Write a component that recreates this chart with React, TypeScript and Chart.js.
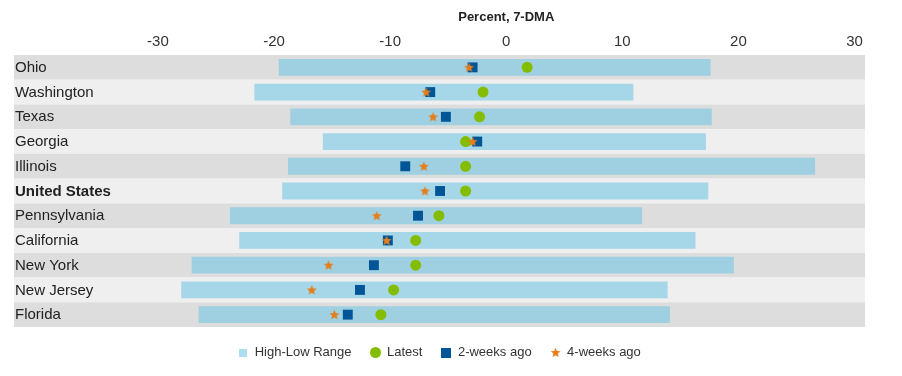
import React, { useEffect, useRef } from 'react';
import { Chart, registerables } from 'chart.js';

Chart.register(...registerables);

const categories = ['Ohio', 'Washington', 'Texas', 'Georgia', 'Illinois', 'United States', 'Pennsylvania', 'California', 'New York', 'New Jersey', 'Florida'];
const rangeLow = [-19.6, -21.7, -18.6, -15.8, -18.8, -19.3, -23.8, -23.0, -27.1, -28.0, -26.5];
const rangeHigh = [17.6, 10.95, 17.7, 17.2, 26.6, 17.4, 11.7, 16.3, 19.6, 13.9, 14.1];
const latest = [1.8, -2.0, -2.3, -3.5, -3.5, -3.5, -5.8, -7.8, -7.8, -9.7, -10.8];
const twoWeeksAgo = [-2.9, -6.55, -5.2, -2.5, -8.7, -5.7, -7.6, -10.2, -11.4, -12.6, -13.65];
const fourWeeksAgo = [-3.2, -6.9, -6.3, -2.9, -7.1, -7.0, -11.15, -10.3, -15.3, -16.75, -14.8];
const xTicks = [-30, -20, -10, 0, 10, 20, 30];
const boldCategories = ['United States'];

const FONT = '"Liberation Sans", Arial, sans-serif';
const GREEN = 'rgb(132,189,0)';
const BLUE = 'rgb(0,85,150)';
const ORANGE = 'rgb(229,125,25)';
const RANGE = 'rgba(113,199,227,0.58)';

function makeStar(size: number, color: string) {
  const c = document.createElement('canvas');
  c.width = size;
  c.height = size;
  const ctx = c.getContext('2d')!;
  const cx = size / 2, cy = size / 2 + 0.4;
  const ro = size / 2 - 0.3, ri = ro * 0.45;
  ctx.beginPath();
  for (let k = 0; k < 10; k++) {
    const r = k % 2 === 0 ? ro : ri;
    const a = -Math.PI / 2 + (k * Math.PI) / 5;
    const x = cx + r * Math.cos(a), y = cy + r * Math.sin(a);
    if (k === 0) ctx.moveTo(x, y); else ctx.lineTo(x, y);
  }
  ctx.closePath();
  ctx.fillStyle = color;
  ctx.fill();
  return c;
}

function makeSquare(size: number, color: string) {
  const c = document.createElement('canvas');
  c.width = size;
  c.height = size;
  const ctx = c.getContext('2d')!;
  ctx.fillStyle = color;
  ctx.fillRect(0, 0, size, size);
  return c;
}

function makeCircle(size: number, color: string) {
  const c = document.createElement('canvas');
  c.width = size;
  c.height = size;
  const ctx = c.getContext('2d')!;
  ctx.fillStyle = color;
  ctx.beginPath();
  ctx.arc(size / 2, size / 2, size / 2, 0, Math.PI * 2);
  ctx.fill();
  return c;
}

const bandPlugin = {
  id: 'bands',
  beforeDatasetsDraw(chart: any) {
    const { ctx, chartArea, scales } = chart;
    const y = scales.y;
    const n = categories.length;
    const h = (chartArea.bottom - chartArea.top) / n;
    ctx.save();
    categories.forEach((cat, i) => {
      const cy = y.getPixelForValue(i);
      ctx.fillStyle = i % 2 === 0 ? '#dddddd' : '#efefef';
      ctx.fillRect(chartArea.left, cy - h / 2, chartArea.right - chartArea.left, h);
    });
    ctx.restore();
  },
  afterDatasetsDraw(chart: any) {
    const { ctx, chartArea, scales } = chart;
    const y = scales.y;
    ctx.save();
    ctx.textBaseline = 'middle';
    ctx.textAlign = 'left';
    ctx.fillStyle = '#222';
    categories.forEach((cat, i) => {
      const bold = boldCategories.includes(cat);
      ctx.font = `${bold ? 'bold ' : ''}15px ${FONT}`;
      ctx.fillText(cat, chartArea.left + 1, y.getPixelForValue(i) + 0.5);
    });
    ctx.restore();
  },
  afterDraw(chart: any) {
    const { ctx, scales } = chart;
    ctx.save();
    ctx.font = `bold 13px ${FONT}`;
    ctx.fillStyle = '#222';
    ctx.textAlign = 'center';
    ctx.textBaseline = 'middle';
    ctx.fillText('Percent, 7-DMA', scales.x.getPixelForValue(0), 17);
    ctx.restore();
  },
};

export default function App() {
  const ref = useRef<HTMLCanvasElement>(null);
  useEffect(() => {
    if (!ref.current) return;
    const star = makeStar(11, ORANGE);
    const smallSquare = makeSquare(8, 'rgb(173,222,239)');
    const legendCircle = makeCircle(11, GREEN);
    const legendSquare = makeSquare(10, BLUE);
    const chart = new Chart(ref.current, {
      type: 'bar',
      data: {
        labels: categories,
        datasets: [
          {
            type: 'bar',
            label: 'High-Low Range',
            data: categories.map((_, i) => [rangeLow[i], rangeHigh[i]]) as any,
            backgroundColor: RANGE,
            borderWidth: 0,
            barPercentage: 0.68,
            categoryPercentage: 1,
            pointStyle: smallSquare,
            order: 4,
          } as any,
          {
            type: 'line',
            label: 'Latest',
            data: categories.map((c, i) => ({ x: latest[i], y: c })),
            showLine: false,
            pointStyle: 'circle',
            pointRadius: 5.5,
            backgroundColor: GREEN,
            borderColor: GREEN,
            borderWidth: 0,
            order: 3,
          } as any,
          {
            type: 'line',
            label: '2-weeks ago',
            data: categories.map((c, i) => ({ x: twoWeeksAgo[i], y: c })),
            showLine: false,
            pointStyle: 'rect',
            pointRadius: 7,
            backgroundColor: BLUE,
            borderColor: BLUE,
            borderWidth: 0,
            order: 2,
          } as any,
          {
            type: 'line',
            label: '4-weeks ago',
            data: categories.map((c, i) => ({ x: fourWeeksAgo[i], y: c })),
            showLine: false,
            pointStyle: star,
            pointRadius: 5,
            backgroundColor: ORANGE,
            borderColor: ORANGE,
            borderWidth: 0,
            order: 1,
          } as any,
        ],
      },
      options: {
        indexAxis: 'y',
        animation: false,
        responsive: true,
        maintainAspectRatio: false,
        layout: { padding: { left: 14, right: 37, top: 0, bottom: 7 } },
        scales: {
          x: {
            type: 'linear',
            position: 'top',
            min: -42.4,
            max: 30.9,
            grid: { display: false, drawTicks: false },
            border: { display: false },
            ticks: { font: { family: FONT, size: 15 }, color: '#333', padding: 4 },
            afterBuildTicks: (scale: any) => {
              scale.ticks = xTicks.map((v) => ({ value: v }));
            },
            afterFit: (scale: any) => {
              scale.height = 55;
            },
          },
          y: {
            type: 'category',
            display: false,
            offset: true,
          },
        },
        plugins: {
          legend: {
            position: 'bottom',
            labels: {
              usePointStyle: true,
              boxWidth: 10,
              boxHeight: 10,
              padding: 19,
              color: '#333',
              font: { family: FONT, size: 13 },
              sort: (a: any, b: any) => a.datasetIndex - b.datasetIndex,
              generateLabels: (c: any) => {
                const items = (Chart.defaults.plugins.legend.labels as any).generateLabels(c);
                items.forEach((it: any) => {
                  if (it.text === 'Latest') it.pointStyle = legendCircle;
                  if (it.text === '2-weeks ago') it.pointStyle = legendSquare;
                });
                return items;
              },
            },
          },
          tooltip: { enabled: false },
          title: { display: false },
        },
      },
      plugins: [bandPlugin],
    } as any);
    return () => chart.destroy();
  }, []);
  return (
    <div style={{ position: 'fixed', left: 0, top: 0, width: 902, height: 376, background: '#fff' }}>
      <canvas ref={ref} />
    </div>
  );
}
